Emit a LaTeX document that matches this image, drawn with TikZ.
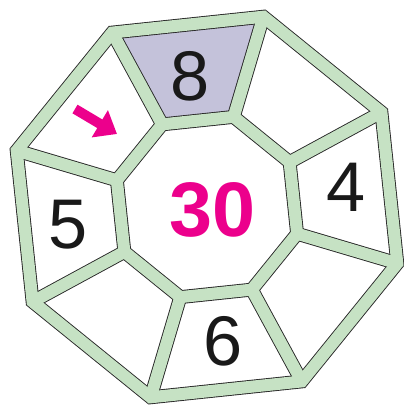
\documentclass[tikz,border=0pt]{standalone}
\usepackage{fontspec}
\setmainfont{Liberation Sans}
\usetikzlibrary{arrows.meta,calc}
\definecolor{bandgreen}{RGB}{198,226,196}
\definecolor{cellpurple}{RGB}{196,194,218}
\definecolor{hotpink}{RGB}{236,0,140}

\begin{document}
\begin{tikzpicture}[
  x=0.25mm, y=0.25mm,
  bandedge/.style={line width=3.45mm, draw=black!85, line join=miter},
  band/.style={line width=3mm, draw=bandgreen, line join=miter},
  digit/.style={font=\fontsize{50}{50}\selectfont, text=black!90, inner sep=0pt},
]
\useasboundingbox (0,0) rectangle (404,407);
\coordinate (c) at (207,200);
\foreach \k in {0,...,7} {
  \coordinate (o\k) at ($(c)+(73.5-45*\k:198.5)$);
  \coordinate (i\k) at ($(c)+(73.5-45*\k:94)$);
}

% shaded cell at the top
\fill[cellpurple] (o7) -- (o0) -- (i0) -- (i7) -- cycle;

% frame: black edge first, then green band over it
\foreach \s in {bandedge,band} {
  \draw[\s] (o0) -- (o1) -- (o2) -- (o3) -- (o4) -- (o5) -- (o6) -- (o7) -- cycle;
  \draw[\s] (i0) -- (i1) -- (i2) -- (i3) -- (i4) -- (i5) -- (i6) -- (i7) -- cycle;
  \foreach \k in {0,...,7}
    \draw[\s] (o\k) -- (i\k);
}

\node[digit] (n8) at (190.5,331) {8};
\node[digit] (n4) at (346.5,219.5) {4};
\node[digit] (n5) at (68.5,182) {5};
\node[digit] (n6) at (223,66) {6};
\node[font=\fontsize{55}{55}\selectfont\bfseries, text=hotpink, inner sep=0pt] (sum) at (212.5,197.5) {30};

\coordinate (arrtail) at (75,298);
\coordinate (arrtip) at (117,273);
\draw[hotpink, line width=2.5mm, -{Triangle[length=5mm,width=7.6mm]}] (arrtail) -- (arrtip);
\end{tikzpicture}
\end{document}
